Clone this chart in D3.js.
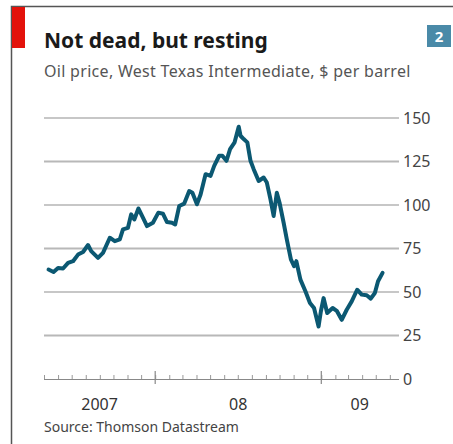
<!DOCTYPE html>
<html lang="en">
<head>
    <meta charset="UTF-8">
    <title>Not dead, but resting</title>
    <style>
        body { margin: 0; background: #fff; }
        svg { display: block; font-family: "Noto Sans", "DejaVu Sans", sans-serif; }
    </style>
</head>
<body>
    <div id="chart"></div>

    <script src="https://cdnjs.cloudflare.com/ajax/libs/d3/7.8.5/d3.min.js"></script>
    <script>
        // WTI oil price, $ per barrel
        const dates = [
            "2007-05-11", "2007-05-22", "2007-06-01", "2007-06-12", "2007-06-23", "2007-07-04",
            "2007-07-15", "2007-07-26", "2007-08-06", "2007-08-13", "2007-08-28", "2007-09-08",
            "2007-09-23", "2007-10-04", "2007-10-15", "2007-10-22", "2007-11-02", "2007-11-09",
            "2007-11-16", "2007-11-25", "2007-12-05", "2007-12-14", "2007-12-27", "2008-01-08",
            "2008-01-18", "2008-01-27", "2008-02-07", "2008-02-14", "2008-02-23", "2008-03-05",
            "2008-03-16", "2008-03-23", "2008-04-02", "2008-04-10", "2008-04-21", "2008-05-02",
            "2008-05-10", "2008-05-21", "2008-05-28", "2008-06-06", "2008-06-14", "2008-06-24",
            "2008-07-03", "2008-07-07", "2008-07-14", "2008-07-22", "2008-07-29", "2008-08-05",
            "2008-08-16", "2008-08-27", "2008-09-03", "2008-09-11", "2008-09-18", "2008-09-25",
            "2008-10-01", "2008-10-10", "2008-10-17", "2008-10-26", "2008-11-02", "2008-11-07",
            "2008-11-16", "2008-11-27", "2008-12-07", "2008-12-16", "2008-12-26", "2008-12-31",
            "2009-01-06", "2009-01-14", "2009-01-26", "2009-02-04", "2009-02-15", "2009-02-26",
            "2009-03-09", "2009-03-21", "2009-03-31", "2009-04-11", "2009-04-20", "2009-04-29",
            "2009-05-06", "2009-05-16"
        ];
        const prices = [
            62.9, 61.5, 63.8, 63.5, 66.7, 67.7,
            71.5, 73.0, 77.0, 73.5, 69.6, 72.5,
            81.2, 79.2, 80.2, 86.0, 86.9, 94.6,
            91.7, 98.0, 92.7, 87.9, 89.8, 95.6,
            95.0, 90.2, 89.8, 88.8, 99.4, 100.8,
            108.0, 107.0, 100.4, 106.0, 117.7, 116.7,
            122.5, 128.3, 128.3, 125.4, 132.1, 136.0,
            145.0, 139.8, 137.9, 136.0, 125.4, 120.6,
            113.8, 115.8, 112.9, 103.3, 93.7, 107.1,
            101.3, 89.8, 80.2, 68.7, 64.8, 67.7,
            57.1, 50.4, 43.7, 40.8, 30.2, 38.8,
            46.5, 37.9, 40.8, 39.2, 34.0, 39.8,
            44.6, 51.3, 48.5, 48.1, 46.2, 49.4,
            56.2, 61.0
        ];
        const yTicks = [0, 25, 50, 75, 100, 125, 150];
        const yearLabels = ["2007", "08", "09"];

        const title = "Not dead, but resting";
        const subtitle = "Oil price, West Texas Intermediate, $ per barrel";
        const source = "Source: Thomson Datastream";

        const width = 453, height = 444;
        const parse = d3.timeParse("%Y-%m-%d");
        const data = dates.map((d, i) => ({ date: parse(d), price: prices[i] }));

        const svg = d3.select("#chart")
                      .append("svg")
                      .attr("width", width)
                      .attr("height", height);

        // frame
        svg.append("path")
           .attr("d", "M11.5,444V6.5H453")
           .attr("fill", "none")
           .attr("stroke", "#555")
           .attr("stroke-width", 1.5);
        svg.append("rect").attr("x", 12).attr("y", 7).attr("width", 13).attr("height", 41).attr("fill", "#e3120b");

        // chart number box
        svg.append("rect").attr("x", 427).attr("y", 25).attr("width", 24).attr("height", 22).attr("fill", "#4a8aa8");
        svg.append("text")
           .attr("x", 439).attr("y", 42)
           .attr("text-anchor", "middle")
           .attr("fill", "#fff")
           .style("font-size", "15px")
           .style("font-weight", "bold")
           .text("2");

        svg.append("text")
           .attr("x", 44).attr("y", 48)
           .attr("fill", "#1a1a1a")
           .style("font-size", "21px")
           .style("font-weight", "bold")
           .text(title);
        svg.append("text")
           .attr("x", 44).attr("y", 77)
           .attr("fill", "#555")
           .style("font-size", "16px")
           .style("letter-spacing", "0.3px")
           .text(subtitle);

        // scales
        const xStart = parse("2007-05-01"), xEnd = parse("2009-06-19");
        const xScale = d3.scaleTime().domain([xStart, xEnd]).range([44, 398]);
        const yScale = d3.scaleLinear().domain([0, 150]).range([379, 118]);

        // gridlines
        svg.append("g")
           .selectAll("line")
           .data(yTicks.filter(v => v > 0))
           .enter()
           .append("line")
           .attr("x1", 44).attr("x2", 399)
           .attr("y1", d => yScale(d)).attr("y2", d => yScale(d))
           .attr("stroke", (d, i) => i % 2 ? "#8f8f8f" : "#b8b8b8")
           .attr("stroke-width", (d, i) => i % 2 ? 1.2 : 2);

        // y labels on the right
        const yAxis = svg.append("g")
           .attr("transform", "translate(399,0)")
           .call(d3.axisRight(yScale).tickValues(yTicks).tickSize(0).tickPadding(4));
        yAxis.select(".domain").remove();
        yAxis.selectAll("text")
             .attr("fill", "#444")
             .style("font-size", "16px")
             .style("font-family", "\"Noto Sans\", sans-serif");

        // x axis with monthly ticks pointing up
        const xAxis = svg.append("g")
           .attr("transform", "translate(0,379)")
           .call(d3.axisTop(xScale)
                   .ticks(d3.timeMonth.every(1))
                   .tickSize(4)
                   .tickSizeOuter(0)
                   .tickFormat(""));
        xAxis.select(".domain").attr("stroke", "#888").attr("d", "M44,0.5H399");
        xAxis.selectAll(".tick line").attr("stroke", "#999");

        // year ticks
        const years = [parse("2008-01-01"), parse("2009-01-01")];
        svg.append("g")
           .selectAll("line")
           .data(years)
           .enter()
           .append("line")
           .attr("x1", d => xScale(d)).attr("x2", d => xScale(d))
           .attr("y1", 371).attr("y2", 384)
           .attr("stroke", "#888")
           .attr("stroke-width", 1.2);

        // year labels centred on the visible part of each year
        const bounds = [xStart, years[0], years[1], xEnd];
        svg.append("g")
           .selectAll("text")
           .data(yearLabels)
           .enter()
           .append("text")
           .attr("x", (d, i) => (xScale(bounds[i]) + xScale(bounds[i + 1])) / 2)
           .attr("y", 410)
           .attr("text-anchor", "middle")
           .attr("fill", "#333")
           .style("font-size", "16px")
           .text(d => d);

        // price line
        const line = d3.line()
                       .x(d => xScale(d.date))
                       .y(d => yScale(d.price));
        svg.append("path")
           .datum(data)
           .attr("d", line)
           .attr("fill", "none")
           .attr("stroke", "#0b5872")
           .attr("stroke-width", 4)
           .attr("stroke-linejoin", "round")
           .attr("stroke-linecap", "round");

        svg.append("text")
           .attr("x", 44).attr("y", 432)
           .attr("fill", "#444")
           .style("font-size", "14px")
           .text(source);
    </script>
</body>
</html>
